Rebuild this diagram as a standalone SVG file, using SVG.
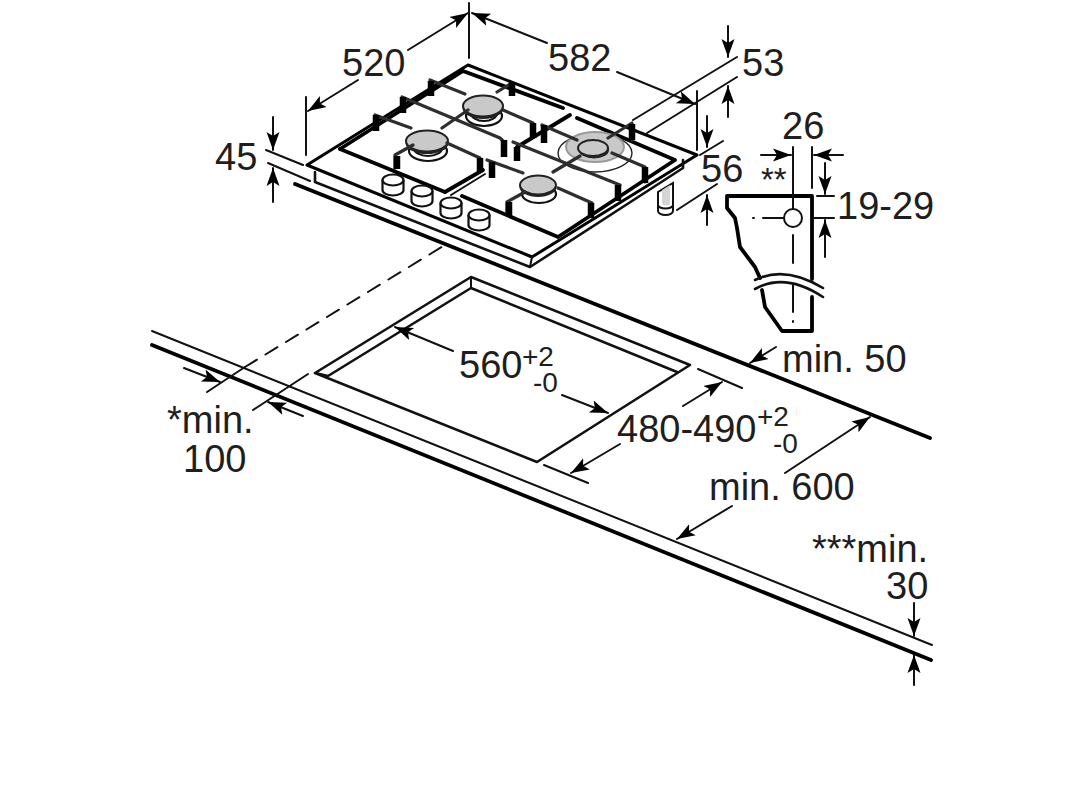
<svg xmlns="http://www.w3.org/2000/svg" xmlns:xlink="http://www.w3.org/1999/xlink" width="1086" height="800" viewBox="0 0 1086 800">
<style>
text{font-family:"Liberation Sans",Arial,sans-serif;font-size:38px;fill:#1e1e1e}
.s{font-size:28px}
.thin{stroke:#111;stroke-width:2;fill:none;stroke-linecap:round;stroke-linejoin:round}
.med{stroke:#111;stroke-width:2.6;fill:none;stroke-linecap:round;stroke-linejoin:round}
.thick{stroke:#000;stroke-width:3.8;fill:none;stroke-linecap:round;stroke-linejoin:round}
.bar{stroke:#2e2e2e;stroke-width:3.2;fill:none;stroke-linecap:round;stroke-linejoin:round}
.foot{stroke:#000;stroke-width:6.5;fill:none;stroke-linecap:butt}
.cap{fill:#c9c9c9;stroke:#222;stroke-width:2}
.ring{fill:#fff;stroke:#111;stroke-width:2.2}
.dim{stroke:#111;stroke-width:2;fill:none;stroke-linecap:round;marker-end:url(#ah)}
</style>
<defs>
<marker id="ah" markerUnits="userSpaceOnUse" markerWidth="20" markerHeight="16" refX="18" refY="7" orient="auto"><path d="M0,0.5 L18,7 L0,13.5 L4,7 Z" fill="#000"/></marker>
<g id="knob"><path d="M-10.500,0 V10 A10.500,5.500 0 0 0 10.500,10 V0" fill="#fff" stroke="#111" stroke-width="2.200"/><ellipse rx="10.500" ry="5.500" fill="#fff" stroke="#111" stroke-width="2.200"/></g>
</defs>
<rect width="1086" height="800" fill="#fff"/>
<g id="worktop">
<path class="thick" d="M295,184 L930,438"/>
<path class="thin" d="M152,331 L932,645"/>
<path class="thick" d="M152,345 L931,660"/>
<path class="med" d="M315,373 L471,277 L690,365 L537,462 L315,373 L328,376 L471,288 L677,372"/>
<path class="thin" d="M471,277 V288"/>
<path class="thin" stroke-dasharray="14 10" d="M245,367 L445,245"/>
</g>
<g id="hob">
<path d="M307,165 L468,65 L697,155 L683,168 L530,267 L315,182 V172 Z" fill="#fff"/>
<path class="thick" style="stroke-width:3" d="M307,165 L468,65 L697,155 L532,257 L307,165"/>
<path class="med" d="M315,172 V182 L530,267 L683,168 V160"/>
<path class="thin" d="M532,257 L530,267"/>
<path class="thick" d="M340,149 L463,71 L563,108"/>
<path class="thick" d="M577,118 L675,160 L558,237 L462,196"/>
<path class="thick" d="M340,149 L445,192"/>
<path class="thick" d="M445,192 L483,170"/>
<path class="thin" d="M451,195 L485,174"/>
<path class="thick" d="M570,115 L517,147"/>
<g id="knobs">
<use xlink:href="#knob" x="393" y="180"/>
<use xlink:href="#knob" x="422" y="191"/>
<use xlink:href="#knob" x="451" y="203"/>
<use xlink:href="#knob" x="479" y="215"/>
</g>
<g id="foot">
<path d="M658,192 V211 A7.500,4 0 0 0 673,211 V183 Z" fill="#fff" stroke="#111" stroke-width="2"/>
<path d="M662,190 L670,185 V203 A4,2.500 0 0 1 662,203 Z" fill="#d4d4d4"/>
<path d="M658,205 A7.500,3.500 0 0 0 673,205" fill="none" stroke="#111" stroke-width="2"/>
</g>
<g id="burner-back">
<ellipse class="ring" cx="484" cy="116" rx="18" ry="10"/>
<ellipse class="ring" cx="484" cy="113" rx="13" ry="8"/>
<ellipse cx="483" cy="108" rx="20.500" ry="11" fill="#222"/>
<ellipse class="cap" cx="483" cy="106" rx="20" ry="10.500"/>
</g>
<g id="burner-left">
<ellipse class="ring" cx="428" cy="151" rx="19" ry="10"/>
<ellipse class="ring" cx="428" cy="148" rx="14" ry="8"/>
<ellipse cx="427" cy="143" rx="21.500" ry="11" fill="#222"/>
<ellipse class="cap" cx="427" cy="141" rx="21" ry="10.500"/>
</g>
<g id="burner-front">
<ellipse class="ring" cx="539" cy="194" rx="17" ry="9"/>
<ellipse cx="538" cy="187" rx="18.500" ry="10" fill="#222"/>
<ellipse class="cap" cx="538" cy="185" rx="18" ry="9.500"/>
</g>
<g id="burner-large">
<ellipse cx="595" cy="153" rx="37" ry="19" fill="#fff" stroke="#222" stroke-width="1.400"/>
<ellipse class="cap" cx="595" cy="147" rx="29" ry="15" style="stroke:#999"/>
<ellipse cx="594" cy="150" rx="15" ry="8.500" fill="#222"/>
<ellipse class="cap" cx="593" cy="148" rx="15" ry="8"/>
</g>
<g id="grate">
<path class="bar" d="M430,80 L465,94 M402,97 L500,138 L504,142 M375,115 L411,128"/>
<path class="foot" d="M431,81 V96 M403,97 V113 M376,115 V131 M504,140 V157"/>
<path class="bar" d="M413,145 L395,155 V168 M447,143 L480,158 V170 M468,110 L442,128 M503,110 L533,123 V137 M497,92 L512,83"/>
<path class="foot" d="M397,156 V169 M480,158 V172 M533,123 V138 M512,82 V96"/>
<path class="bar" d="M542,125 L577,140 M513,142 L620,185 M487,160 L523,173"/>
<path class="foot" d="M544,125 V143 M618,185 V201 M517,147 V161 M492,162 V178"/>
<path class="bar" d="M580,156 L553,172 M612,153 L645,167 V182 M608,138 L632,123 V140 M525,192 L507,202 V215 M558,188 L592,203 V217"/>
<path class="foot" d="M645,167 V183 M632,124 V140 M509,202 V216 M591,203 V218"/>
</g>
</g>
<g id="bracket">
<path class="thick" d="M812,279 V196 H727 V208 L735,218 L737,228 L740,247 L755,267 L760,278"/>
<path class="thick" d="M812,297 V331 H782 L765,307 L762,290"/>
<path class="med" d="M755,280 Q785,265 823,288 M755,289 Q785,272 823,297"/>
<circle cx="793" cy="218" r="9" fill="#fff" stroke="#111" stroke-width="2"/>
<path class="thin" d="M753,218 H754 M763,218 H784 M793,147 V209 M793,235 V263 M793,285 V312 M793,321 V322 M812,147 V188 M817,196 H834 M813,218 H834"/>
</g>
<g id="connectors">
<path class="thin" d="M469,3 V58 M306,97 V155 M697,91 V150 M633,120 L737,57 M647,133 L737,77 M700,155 L723,141 M677,210 L717,184 M266,150 L303,165 M268,163 L310,181 M207,392 L245,367 M253,410 L308,374 M698,369 L742,388 M544,465 L588,483"/>
<path class="dim" d="M408,50 L468,13"/>
<path class="dim" d="M358,80 L308,111"/>
<path class="dim" d="M547,43 L472,13"/>
<path class="dim" d="M617,72 L695,104"/>
<path class="dim" d="M728,26 V57"/>
<path class="dim" d="M728,117 V86"/>
<path class="dim" d="M707,116 V147"/>
<path class="dim" d="M707,225 V195"/>
<path class="dim" d="M273,117 V150"/>
<path class="dim" d="M273,202 V168"/>
<path class="dim" d="M761,155 H791"/>
<path class="dim" d="M843,155 H814"/>
<path class="dim" d="M825,163 V194"/>
<path class="dim" d="M825,257 V220"/>
<path class="dim" d="M776,347 L750,363"/>
<path class="dim" d="M453,351 L395,327"/>
<path class="dim" d="M562,395 L608,413"/>
<path class="dim" d="M683,406 L722,382"/>
<path class="dim" d="M620,444 L571,473"/>
<path class="dim" d="M785,473 L870,417"/>
<path class="dim" d="M732,506 L677,539"/>
<path class="dim" d="M184,368 L220,382"/>
<path class="dim" d="M303,416 L268,402"/>
<path class="dim" d="M914,603 V636"/>
<path class="dim" d="M914,685 V655"/>
</g>
<g id="labels">
<text x="342" y="76">520</text>
<text x="548" y="71">582</text>
<text x="742" y="76">53</text>
<text x="701" y="182">56</text>
<text x="215" y="170">45</text>
<text x="782" y="139">26</text>
<text x="761" y="191" style="font-size:33px">**</text>
<text x="837" y="219">19-29</text>
<text x="782" y="372">min. 50</text>
<text x="459" y="378">560</text>
<text class="s" x="522" y="366">+2</text>
<text class="s" x="533" y="392">-0</text>
<text x="617" y="442">480-490</text>
<text class="s" x="757" y="426">+2</text>
<text class="s" x="773" y="453">-0</text>
<text x="709" y="500">min. 600</text>
<text x="167" y="433">*min.</text>
<text x="183" y="472">100</text>
<text x="812" y="562">***min.</text>
<text x="886" y="599">30</text>
</g>
</svg>
